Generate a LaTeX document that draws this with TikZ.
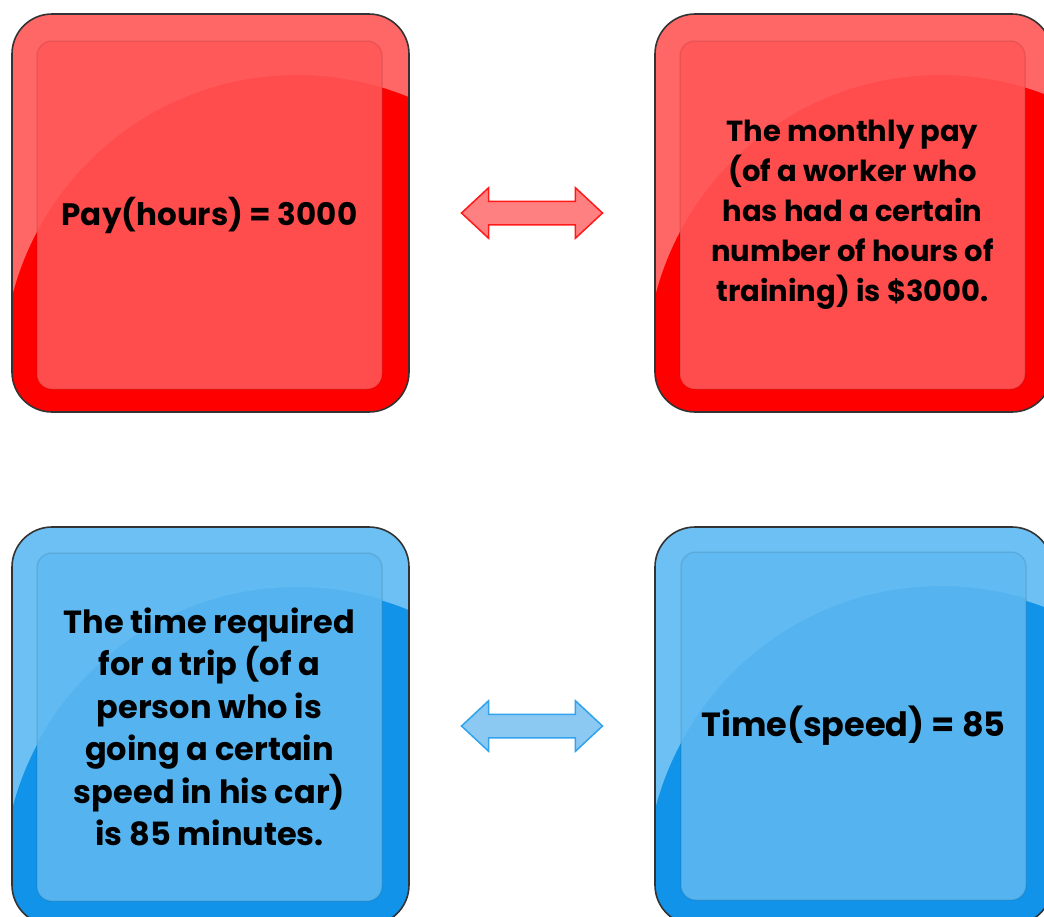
\documentclass[tikz,border=0pt]{standalone}
\usepackage{fontspec}
\setmainfont{Poppins}
\usetikzlibrary{shapes.arrows,calc}
\definecolor{redlight}{HTML}{FF6666}
\definecolor{reddark}{HTML}{FF0000}
\definecolor{redpanel}{HTML}{FF4D4D}
\definecolor{redgloss}{HTML}{FF5959}
\definecolor{redarrow}{HTML}{FF8080}
\definecolor{redline}{HTML}{FF1A1A}
\definecolor{bluelight}{HTML}{6CC0F3}
\definecolor{bluedark}{HTML}{1093E8}
\definecolor{bluepanel}{HTML}{55B4EF}
\definecolor{bluegloss}{HTML}{61BAF1}
\definecolor{bluearrow}{HTML}{8BC9F3}
\definecolor{blueline}{HTML}{30A2EE}
\begin{document}
\begin{tikzpicture}[x=1pt,y=-1pt,
    glossbox/.style 2 args={draw=black!80,line width=1.6pt,rounded corners=40pt,
      minimum width=397pt,minimum height=398pt,inner sep=0pt,fill=#2,
      path picture={\fill[#1,even odd rule]
        (path picture bounding box.north west) rectangle (path picture bounding box.south east)
        (path picture bounding box.center) ++(86.5,156) circle (294pt);}},
    panel/.style 2 args={draw=black,draw opacity=0.08,line width=1.5pt,rounded corners=15pt,
      minimum width=345pt,minimum height=348pt,inner sep=0pt,fill=#2,align=center,
      font=\bfseries\fontsize{29}{40}\selectfont,
      path picture={\fill[#1,even odd rule]
        (path picture bounding box.north west) rectangle (path picture bounding box.south east)
        (path picture bounding box.center) ++(87.5,154) circle (294pt);}},
    pairarrow/.style 2 args={double arrow,draw=#1,fill=#2,line width=1.5pt,
      inner xsep=0pt,inner ysep=11pt,minimum height=141pt,
      double arrow head extend=13.5pt,double arrow tip angle=86}]
  \useasboundingbox (0,0) rectangle (1044,916);
  \begin{scope}
    \clip (0,0) rectangle (1044,916);
    \node[glossbox={redlight}{reddark}] (pay) at (210.5,213) {};
    \node[glossbox={redlight}{reddark}] (paydef) at (853.5,213) {};
    \node[glossbox={bluelight}{bluedark}] (timedef) at (210.5,726) {};
    \node[glossbox={bluelight}{bluedark}] (time) at (853.5,726) {};
  \end{scope}
  \node[panel={redgloss}{redpanel},font=\bfseries\fontsize{31}{40}\selectfont] (paytext) at (209.5,215) {Pay(hours) = 3000};
  \node[panel={redgloss}{redpanel}] (paydeftext) at (852.5,215) {The monthly pay\\(of a worker who\\has had a certain\\number of hours of\\training) is \$3000.};
  \node[panel={bluegloss}{bluepanel},font=\bfseries\fontsize{32}{42.5}\selectfont] (timedeftext) at (209.5,727) {The time required\\for a trip (of a\\person who is\\going a certain\\speed in his car)\\is 85 minutes.};
  \node[panel={bluegloss}{bluepanel},font=\bfseries\fontsize{33.5}{40}\selectfont] (timetext) at (853.5,726) {Time(speed) = 85};
  \node[pairarrow={redline}{redarrow}] (payarrow) at ($(pay)!0.5!(paydef)$) {};
  \node[pairarrow={blueline}{bluearrow}] (timearrow) at ($(timedef)!0.5!(time)$) {};
\end{tikzpicture}
\end{document}
